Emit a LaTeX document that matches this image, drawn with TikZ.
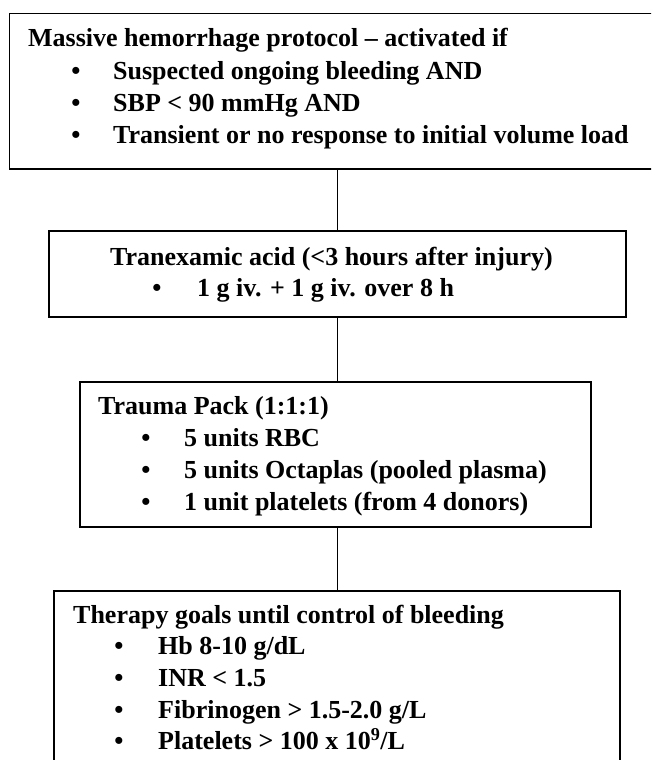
\documentclass[tikz,border=0pt]{standalone}
\usepackage{fontspec}
\setmainfont{Liberation Serif}
\usepackage{tikz}
\usetikzlibrary{calc}

\begin{document}
\begin{tikzpicture}[x=1pt,y=-1pt,
  flow box/.style={draw,line width=1.5pt,inner sep=0pt,anchor=north west},
  link line/.style={line width=1pt},
  item text/.style={anchor=base west,inner sep=0pt,font=\bfseries\fontsize{26}{32}\selectfont},
  item dot/.style={anchor=base,inner sep=0pt,font=\bfseries\fontsize{26}{32}\selectfont}]
\useasboundingbox (0,0) rectangle (651,760);
\clip (0,0) rectangle (651,760);
% boxes
\node[flow box,minimum width=654pt,minimum height=155pt] (protocol) at (8.7,13) {};
\node[flow box,minimum width=577pt,minimum height=86pt] (acid) at (48,230) {};
\node[flow box,minimum width=511pt,minimum height=145pt] (pack) at (79,381) {};
\node[flow box,minimum width=566pt,minimum height=190pt] (goals) at (53,590) {};
% links
\draw[link line] (acid.north |- protocol.south) -- (acid.north);
\draw[link line] (acid.south) -- (acid.south |- pack.north);
\draw[link line] (acid.south |- pack.south) -- (acid.south |- goals.north);
% protocol
\node[item text] (protocol-head) at (28,47) {Massive hemorrhage protocol -- activated if};
\foreach \t [count=\i] in {Suspected ongoing bleeding AND,SBP < 90 mmHg AND,Transient or no response to initial volume load}{
  \node[item dot] (protocol-dot-\i) at (76,47+32*\i) {•};
  \node[item text] (protocol-\i) at (113,47+32*\i) {\t};
}
% tranexamic acid
\node[item text] (acid-head) at (110,265) {Tranexamic acid (<3 hours after injury)};
\node[item dot] (acid-dot) at (157,296) {•};
\node[item text] (acid-1) at (197,296) {1 g iv. + 1 g iv. over 8 h};
% trauma pack
\node[item text] (pack-head) at (98,414) {Trauma Pack (1:1:1)};
\foreach \t [count=\i] in {5 units RBC,5 units Octaplas (pooled plasma),1 unit platelets (from 4 donors)}{
  \node[item dot] (pack-dot-\i) at (146,414+32*\i) {•};
  \node[item text] (pack-\i) at (184,414+32*\i) {\t};
}
% goals
\node[item text] (goals-head) at (73,623) {Therapy goals until control of bleeding};
\foreach \t [count=\i] in {Hb 8-10 g/dL,INR < 1.5,Fibrinogen > 1.5-2.0 g/L,Platelets > 100 x 10\textsuperscript{9}/L}{
  \node[item dot] (goals-dot-\i) at (119,623+31.7*\i) {•};
  \node[item text] (goals-\i) at (158,623+31.7*\i) {\t};
}
\end{tikzpicture}
\end{document}
